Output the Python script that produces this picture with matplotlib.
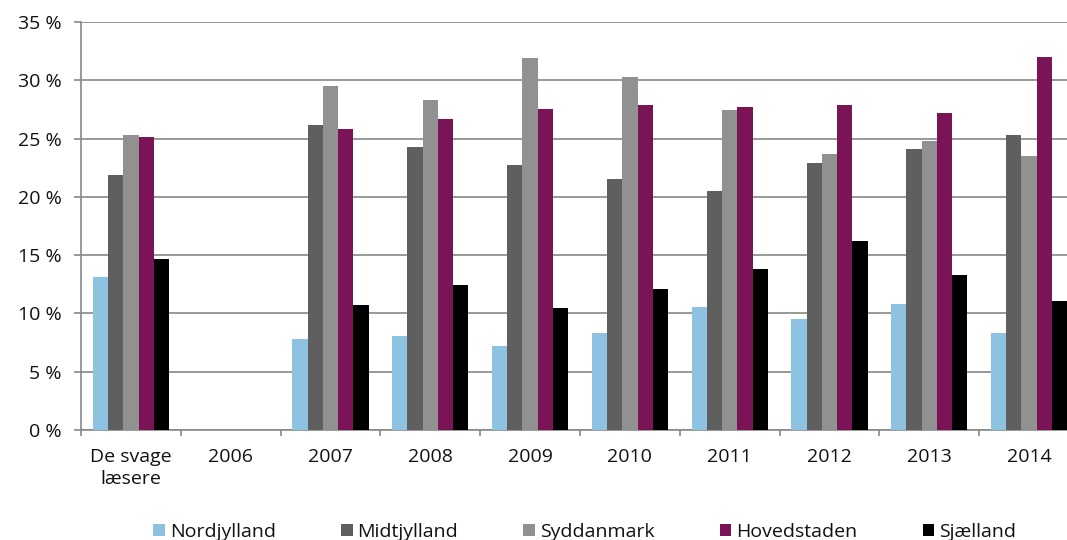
import numpy as np
import matplotlib
matplotlib.use("Agg")
import matplotlib.pyplot as plt
from matplotlib.ticker import FixedLocator, FuncFormatter

categories = ["De svage\nlæsere", "2006", "2007", "2008", "2009", "2010", "2011", "2012", "2013", "2014"]
series_names = ["Nordjylland", "Midtjylland", "Syddanmark", "Hovedstaden", "Sjælland"]
nordjylland = [13.1, np.nan, 7.8, 8.1, 7.2, 8.35, 10.55, 9.5, 10.8, 8.3]
midtjylland = [21.9, np.nan, 26.2, 24.3, 22.7, 21.5, 20.5, 22.9, 24.1, 25.3]
syddanmark = [25.3, np.nan, 29.5, 28.3, 31.95, 30.25, 27.45, 23.7, 24.8, 23.5]
hovedstaden = [25.1, np.nan, 25.85, 26.65, 27.55, 27.9, 27.75, 27.85, 27.2, 32.0]
sjaelland = [14.7, np.nan, 10.7, 12.45, 10.5, 12.1, 13.8, 16.2, 13.3, 11.05]
colors = ["#8DC3E1", "#5F5F5F", "#919191", "#7A1457", "#000000"]
yticks = [0, 5, 10, 15, 20, 25, 30, 35]

plt.rcParams['font.family'] = ['Open Sans', 'DejaVu Sans']
plt.rcParams['font.size'] = 14

fig = plt.figure(figsize=(10.67, 5.40), dpi=100)
ax = fig.add_axes([81/1067, 110/540, 998/1067, 408/540])

data = [nordjylland, midtjylland, syddanmark, hovedstaden, sjaelland]
x = np.arange(len(categories))
w = 0.153
for i, (vals, name, col) in enumerate(zip(data, series_names, colors)):
    ax.bar(x + (i - 2) * w, vals, width=w, color=col, label=name, zorder=3,
           edgecolor="none")

ax.set_xlim(-0.5, len(categories) - 0.5)
ax.set_ylim(0, 35)
ax.set_yticks(yticks)
ax.yaxis.set_major_formatter(FuncFormatter(lambda v, p: f"{int(v)} %"))
ax.yaxis.grid(True, color="#888888", linewidth=1.2, zorder=0)
ax.set_axisbelow(True)

ax.set_xticks(x)
ax.set_xticklabels(categories, linespacing=1.25)
ax.xaxis.set_minor_locator(FixedLocator(np.arange(-0.5, len(categories) + 0.5, 1)))
ax.tick_params(axis="x", which="major", length=0, pad=13, labelcolor="#111111")
ax.tick_params(axis="x", which="minor", length=4.5, width=1.2, color="#888888", direction="out")
ax.tick_params(axis="y", length=5, width=1.2, color="#888888", pad=9, labelcolor="#111111")

for s in ["top", "right"]:
    ax.spines[s].set_visible(False)
for s in ["left", "bottom"]:
    ax.spines[s].set_color("#888888")
    ax.spines[s].set_linewidth(1.2)

fig.legend(loc="center", bbox_to_anchor=(0.548, 1 - 532/540), ncol=5, frameon=False,
           handlelength=0.6, handleheight=0.6, handletextpad=0.25, columnspacing=3.35,
           fontsize=14, labelcolor="#111111")

fig.savefig("out.png", dpi=100)
